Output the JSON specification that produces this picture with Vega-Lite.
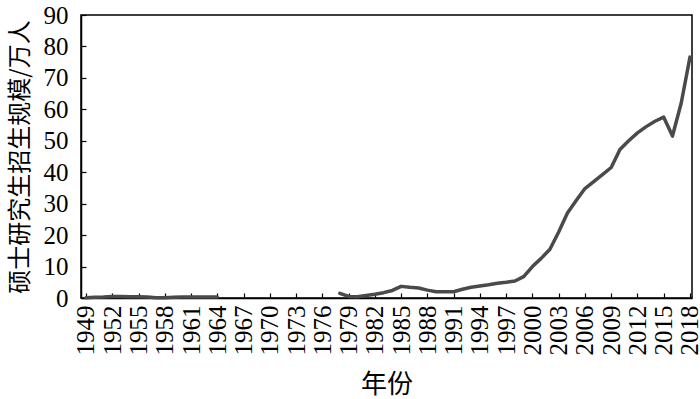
{
  "$schema": "https://vega.github.io/schema/vega-lite/v6.json",
  "width": 611,
  "height": 283,
  "autosize": "none",
  "padding": {"left": 81, "top": 15, "right": 8, "bottom": 101},
  "background": "white",
  "config": {
    "view": {"stroke": "black", "strokeWidth": 1.5},
    "axis": {
      "grid": false,
      "domainColor": "black",
      "domainWidth": 1.5,
      "tickColor": "black",
      "tickWidth": 1.2,
      "labelColor": "black",
      "titleFontWeight": "normal",
      "titleColor": "black"
    }
  },
  "data": {
    "values": [
      {"year": 1949, "v": 0.1, "seg": "a"},
      {"year": 1950, "v": 0.2, "seg": "a"},
      {"year": 1951, "v": 0.3, "seg": "a"},
      {"year": 1952, "v": 0.5, "seg": "a"},
      {"year": 1953, "v": 0.5, "seg": "a"},
      {"year": 1954, "v": 0.4, "seg": "a"},
      {"year": 1955, "v": 0.4, "seg": "a"},
      {"year": 1956, "v": 0.3, "seg": "a"},
      {"year": 1957, "v": 0.1, "seg": "a"},
      {"year": 1958, "v": 0.1, "seg": "a"},
      {"year": 1959, "v": 0.2, "seg": "a"},
      {"year": 1960, "v": 0.3, "seg": "a"},
      {"year": 1961, "v": 0.3, "seg": "a"},
      {"year": 1962, "v": 0.3, "seg": "a"},
      {"year": 1963, "v": 0.3, "seg": "a"},
      {"year": 1964, "v": 0.3, "seg": "a"},
      {"year": 1978, "v": 1.5, "seg": "b"},
      {"year": 1979, "v": 0.5, "seg": "b"},
      {"year": 1980, "v": 0.4, "seg": "b"},
      {"year": 1981, "v": 0.8, "seg": "b"},
      {"year": 1982, "v": 1.2, "seg": "b"},
      {"year": 1983, "v": 1.7, "seg": "b"},
      {"year": 1984, "v": 2.4, "seg": "b"},
      {"year": 1985, "v": 3.7, "seg": "b"},
      {"year": 1986, "v": 3.4, "seg": "b"},
      {"year": 1987, "v": 3.2, "seg": "b"},
      {"year": 1988, "v": 2.5, "seg": "b"},
      {"year": 1989, "v": 2.0, "seg": "b"},
      {"year": 1990, "v": 2.0, "seg": "b"},
      {"year": 1991, "v": 2.0, "seg": "b"},
      {"year": 1992, "v": 2.8, "seg": "b"},
      {"year": 1993, "v": 3.4, "seg": "b"},
      {"year": 1994, "v": 3.8, "seg": "b"},
      {"year": 1995, "v": 4.2, "seg": "b"},
      {"year": 1996, "v": 4.7, "seg": "b"},
      {"year": 1997, "v": 5.0, "seg": "b"},
      {"year": 1998, "v": 5.4, "seg": "b"},
      {"year": 1999, "v": 6.8, "seg": "b"},
      {"year": 2000, "v": 10.0, "seg": "b"},
      {"year": 2001, "v": 12.6, "seg": "b"},
      {"year": 2002, "v": 15.5, "seg": "b"},
      {"year": 2003, "v": 21.0, "seg": "b"},
      {"year": 2004, "v": 27.0, "seg": "b"},
      {"year": 2005, "v": 31.0, "seg": "b"},
      {"year": 2006, "v": 34.8, "seg": "b"},
      {"year": 2007, "v": 37.0, "seg": "b"},
      {"year": 2008, "v": 39.2, "seg": "b"},
      {"year": 2009, "v": 41.5, "seg": "b"},
      {"year": 2010, "v": 47.2, "seg": "b"},
      {"year": 2011, "v": 50.0, "seg": "b"},
      {"year": 2012, "v": 52.5, "seg": "b"},
      {"year": 2013, "v": 54.5, "seg": "b"},
      {"year": 2014, "v": 56.2, "seg": "b"},
      {"year": 2015, "v": 57.5, "seg": "b"},
      {"year": 2016, "v": 51.5, "seg": "b"},
      {"year": 2017, "v": 62.0, "seg": "b"},
      {"year": 2018, "v": 76.6, "seg": "b"}
    ]
  },
  "mark": {"type": "line", "color": "#4a4a4a", "strokeWidth": 3.5, "strokeCap": "round", "strokeJoin": "round"},
  "encoding": {
    "x": {
      "field": "year",
      "type": "quantitative",
      "scale": {"domain": [1948.43, 2018.23], "nice": false, "zero": false},
      "axis": {
        "title": "年份",
        "titleFont": "Noto Sans CJK SC",
        "titleFontSize": 26,
        "labelFont": "Liberation Serif, Times New Roman, serif",
        "labelFontSize": 25,
        "values": [1949, 1952, 1955, 1958, 1961, 1964, 1967, 1970, 1973, 1976, 1979, 1982, 1985, 1988, 1991, 1994, 1997, 2000, 2003, 2006, 2009, 2012, 2015, 2018],
        "format": "d",
        "labelAngle": -90,
        "labelPadding": 12,
        "tickSize": -5,
        "labelFlush": false,
        "labelOverlap": false,
        "titlePadding": 16
      }
    },
    "y": {
      "field": "v",
      "type": "quantitative",
      "scale": {"domain": [0, 90], "nice": false},
      "axis": {
        "title": "硕士研究生招生规模/万人",
        "titleFont": "Noto Sans CJK SC",
        "titleFontSize": 24,
        "labelFont": "Liberation Serif, Times New Roman, serif",
        "labelFontSize": 25,
        "values": [0, 10, 20, 30, 40, 50, 60, 70, 80, 90],
        "tickSize": -5,
        "labelPadding": 18,
        "labelFlush": false,
        "labelOverlap": false,
        "titlePadding": 11
      }
    },
    "detail": {"field": "seg", "type": "nominal"}
  }
}
